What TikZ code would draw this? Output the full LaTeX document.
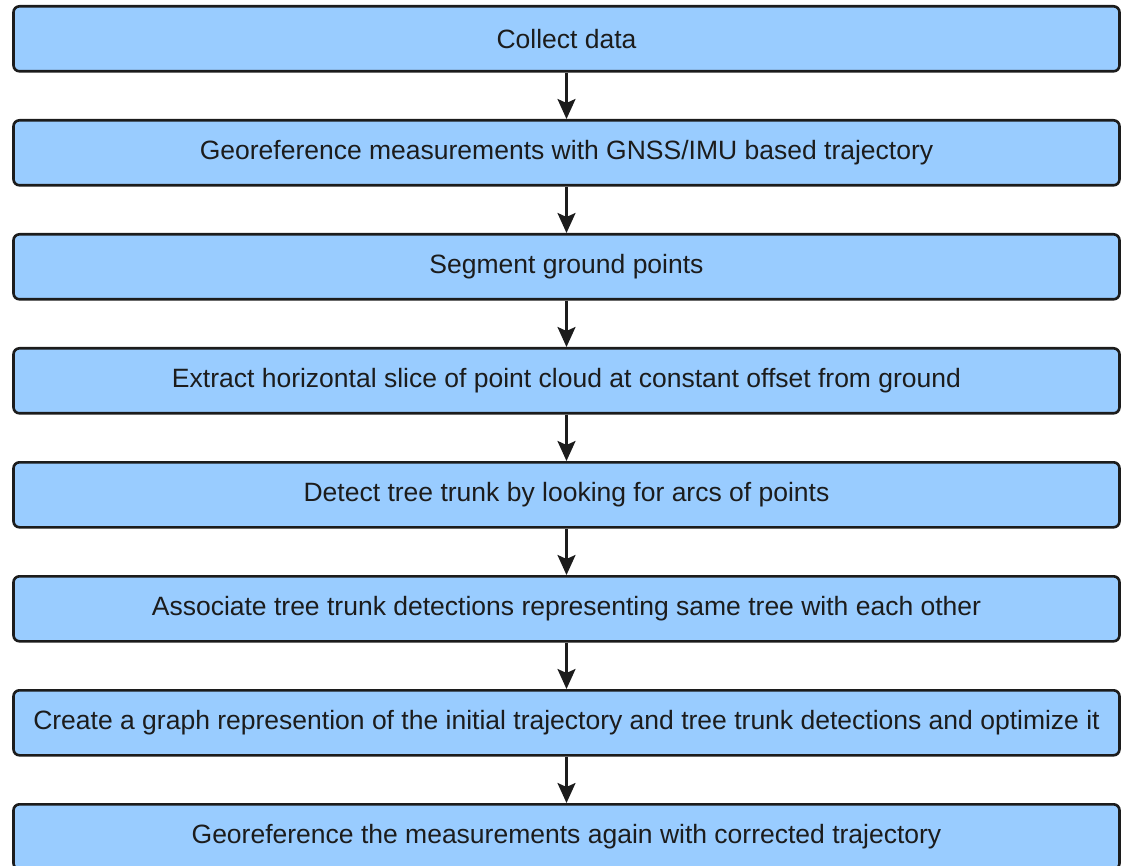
\documentclass[tikz,border=0pt]{standalone}
\usepackage{fontspec}
\setmainfont{Liberation Sans}
\usetikzlibrary{arrows.meta}
\definecolor{boxfill}{HTML}{99CCFF}
\definecolor{boxline}{HTML}{1C1C1C}
\begin{document}
\begin{tikzpicture}[x=1pt,y=-1pt,
  stepbox/.style={draw=boxline, line width=2.6pt, fill=boxfill, rounded corners=6pt,
    minimum width=1106pt, minimum height=65pt, inner sep=0pt, anchor=north,
    font=\fontsize{26.5}{30}\selectfont, text=boxline},
  flow/.style={draw=boxline, line width=2.4pt, -{Stealth[length=20pt,width=18pt,inset=4pt]}}]
\useasboundingbox (0,0) rectangle (1130,866);
\clip (0,0) rectangle (1130,866);
\node[stepbox] (s1) at (566.5,5) {Collect data};
\node[stepbox] (s2) at (566.5,119) {Georeference measurements with GNSS/IMU based trajectory};
\node[stepbox] (s3) at (566.5,233) {Segment ground points};
\node[stepbox] (s4) at (566.5,347) {Extract horizontal slice of point cloud at constant offset from ground};
\node[stepbox] (s5) at (566.5,461) {Detect tree trunk by looking for arcs of points};
\node[stepbox] (s6) at (566.5,575) {Associate tree trunk detections representing same tree with each other};
\node[stepbox] (s7) at (566.5,689) {Create a graph represention of the initial trajectory and tree trunk detections and optimize it};
\node[stepbox] (s8) at (566.5,803) {Georeference the measurements again with corrected trajectory};
\foreach \a/\b in {s1/s2,s2/s3,s3/s4,s4/s5,s5/s6,s6/s7,s7/s8}
  \draw[flow] (\a.south) -- (\b.north);
\end{tikzpicture}
\end{document}
